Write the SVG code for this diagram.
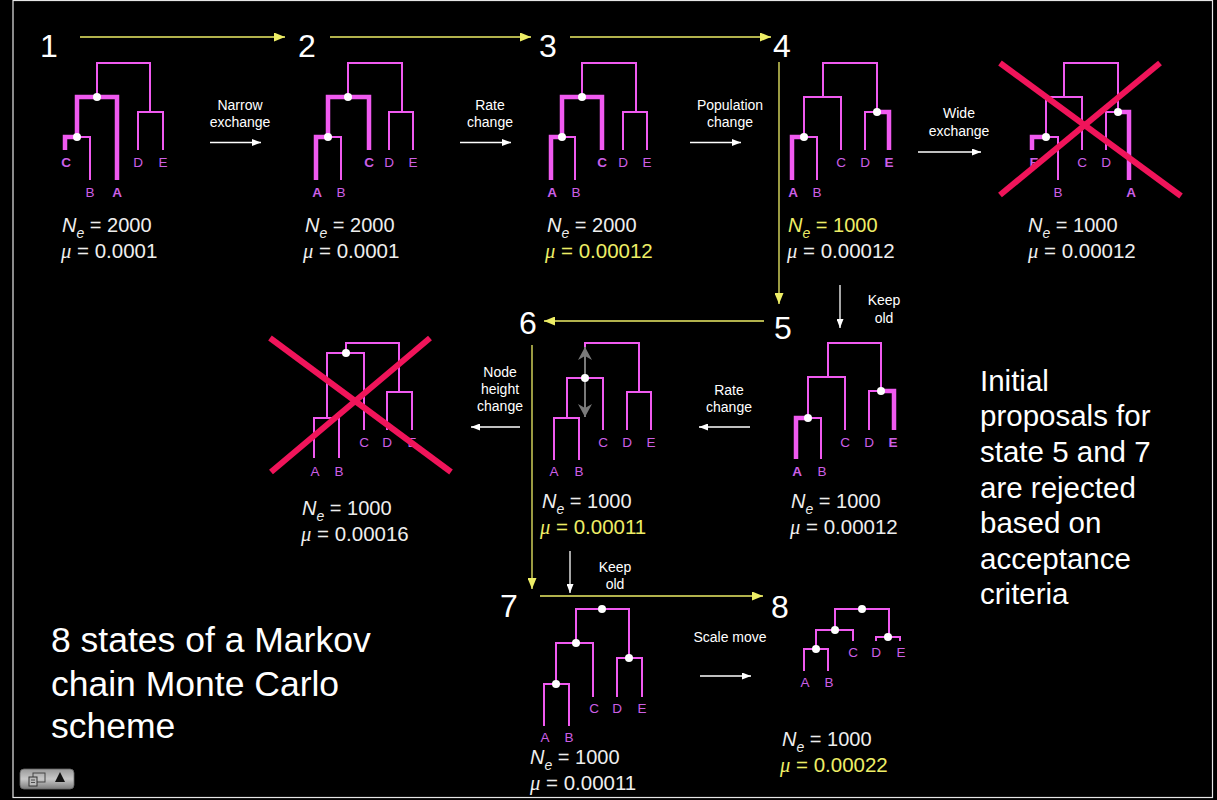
<svg xmlns="http://www.w3.org/2000/svg" width="1217" height="800" viewBox="0 0 1217 800">
<defs>
<marker id="ya" markerUnits="userSpaceOnUse" markerWidth="11" markerHeight="9" refX="11" refY="4.5" orient="auto"><path d="M0,0 L11,4.5 L0,9 z" fill="#eeee66"/></marker>
<marker id="wa" markerUnits="userSpaceOnUse" markerWidth="9" markerHeight="7" refX="9" refY="3.5" orient="auto"><path d="M0,0 L9,3.5 L0,7 z" fill="#ffffff"/></marker>
<marker id="ga" markerUnits="userSpaceOnUse" markerWidth="13" markerHeight="14" refX="13" refY="7" orient="auto-start-reverse"><path d="M0,0 L13,7 L0,14 L4,7 z" fill="#7a7a7a"/></marker>
<linearGradient id="wg" x1="0" y1="0" x2="0" y2="1"><stop offset="0" stop-color="#9a9a9a"/><stop offset="0.5" stop-color="#c8c8c8"/><stop offset="1" stop-color="#7c7c7c"/></linearGradient>
</defs>
<style>
.bg{fill:#000}
.t{fill:none;stroke:#f05af0;stroke-width:2;stroke-linejoin:miter}
.k{fill:none;stroke:#f05af0;stroke-width:4.5;stroke-linejoin:miter}
.dot{fill:#ffffff}
.lb{font-family:"Liberation Sans",Arial,sans-serif;font-size:13.5px;fill:#cc5fe6;text-anchor:middle}
.lbb{font-weight:bold}
.ne{font-family:"Liberation Sans",Arial,sans-serif;font-size:20px;fill:#eeeeee}
.y{fill:#eeee66}
.it{font-style:italic}
.sub{font-size:14px;font-style:italic}
.mu{font-family:"Liberation Serif","Times New Roman",serif;font-style:italic}
.mul{font-size:20.5px}
.num{font-family:"Liberation Sans",Arial,sans-serif;font-size:32px;fill:#ffffff}
.cap{font-family:"Liberation Sans",Arial,sans-serif;font-size:14px;fill:#ffffff;text-anchor:middle}
.big{font-family:"Liberation Sans",Arial,sans-serif;fill:#ffffff}
.yl{stroke:#eeee66;stroke-width:1.3;fill:none}
.wl{stroke:#ffffff;stroke-width:1.3;fill:none}
.x{stroke:#f0145a;stroke-width:6;stroke-linecap:butt}
</style>
<rect class="bg" x="0" y="0" width="1217" height="800"/>
<rect x="13" y="0.5" width="1199.5" height="797" fill="none" stroke="#e6e6e6" stroke-width="1.2"/>

<g id="connectors">
<line class="yl" x1="80" y1="37" x2="285" y2="37" marker-end="url(#ya)"/>
<line class="yl" x1="330" y1="37" x2="531" y2="37" marker-end="url(#ya)"/>
<line class="yl" x1="570" y1="37" x2="771" y2="37" marker-end="url(#ya)"/>
<line class="yl" x1="779" y1="62" x2="779" y2="304" marker-end="url(#ya)"/>
<line class="yl" x1="764" y1="321" x2="544" y2="321" marker-end="url(#ya)"/>
<line class="yl" x1="532" y1="345" x2="532" y2="589" marker-end="url(#ya)"/>
<line class="yl" x1="540" y1="596" x2="763" y2="596" marker-end="url(#ya)"/>
<line class="wl" x1="210" y1="142.5" x2="261" y2="142.5" marker-end="url(#wa)"/>
<line class="wl" x1="460" y1="142.5" x2="511" y2="142.5" marker-end="url(#wa)"/>
<line class="wl" x1="690" y1="142.5" x2="741" y2="142.5" marker-end="url(#wa)"/>
<line class="wl" x1="918" y1="152" x2="981" y2="152" marker-end="url(#wa)"/>
<line class="wl" x1="840" y1="285" x2="840" y2="328" marker-end="url(#wa)"/>
<line class="wl" x1="750" y1="427" x2="699" y2="427" marker-end="url(#wa)"/>
<line class="wl" x1="520" y1="427" x2="471" y2="427" marker-end="url(#wa)"/>
<line class="wl" x1="570" y1="551" x2="570" y2="593" marker-end="url(#wa)"/>
<line class="wl" x1="700" y1="676" x2="751" y2="676" marker-end="url(#wa)"/>
</g>

<g id="move-labels">
<text class="cap" x="240" y="110">Narrow</text><text class="cap" x="240" y="127">exchange</text>
<text class="cap" x="490" y="110">Rate</text><text class="cap" x="490" y="127">change</text>
<text class="cap" x="730" y="110">Population</text><text class="cap" x="730" y="127">change</text>
<text class="cap" x="959" y="118">Wide</text><text class="cap" x="959" y="136">exchange</text>
<text class="cap" x="884" y="305">Keep</text><text class="cap" x="884" y="323">old</text>
<text class="cap" x="729" y="395">Rate</text><text class="cap" x="729" y="412">change</text>
<text class="cap" x="500" y="377">Node</text><text class="cap" x="500" y="394">height</text><text class="cap" x="500" y="411">change</text>
<text class="cap" x="615" y="572">Keep</text><text class="cap" x="615" y="589">old</text>
<text class="cap" x="730" y="642">Scale move</text>
</g>

<g id="numbers">
<text class="num" x="40" y="57">1</text>
<text class="num" x="298" y="57">2</text>
<text class="num" x="539" y="57">3</text>
<text class="num" x="773" y="57">4</text>
<text class="num" x="774" y="339">5</text>
<text class="num" x="519" y="334">6</text>
<text class="num" x="500" y="617">7</text>
<text class="num" x="771" y="618">8</text>
</g>

<g id="state1">
<path class="t" d="M97 97 V63 H150 V112"/>
<path class="k" d="M97 97 H77 V137"/><path class="k" d="M97 97 H117 V180"/>
<path class="k" d="M77 137 H65 V150"/><path class="t" d="M77 137 H90 V180"/>
<path class="t" d="M138 150 V112 H163 V150"/>
<circle class="dot" cx="97" cy="97" r="4"/><circle class="dot" cx="77" cy="137" r="4"/>
<text class="lb lbb" x="66" y="167">C</text><text class="lb" x="138" y="167">D</text><text class="lb" x="163" y="167">E</text>
<text class="lb" x="90" y="197">B</text><text class="lb lbb" x="117" y="197">A</text>
<text class="ne" x="62" y="232"><tspan class="it">N</tspan><tspan class="sub" dy="6">e</tspan><tspan dy="-6"> = 2000</tspan></text>
<text class="ne mul" x="61" y="258"><tspan class="mu">μ</tspan> = 0.0001</text>
</g>

<g id="state2">
<path class="t" d="M348 97 V63 H402 V112"/>
<path class="k" d="M348 97 H328 V137"/><path class="k" d="M348 97 H369 V150"/>
<path class="k" d="M328 137 H316 V180"/><path class="t" d="M328 137 H341 V180"/>
<path class="t" d="M389 150 V112 H413 V150"/>
<circle class="dot" cx="348" cy="97" r="4"/><circle class="dot" cx="328" cy="137" r="4"/>
<text class="lb lbb" x="369" y="167">C</text><text class="lb" x="389" y="167">D</text><text class="lb" x="413" y="167">E</text>
<text class="lb lbb" x="317" y="197">A</text><text class="lb" x="341" y="197">B</text>
<text class="ne" x="305" y="232"><tspan class="it">N</tspan><tspan class="sub" dy="6">e</tspan><tspan dy="-6"> = 2000</tspan></text>
<text class="ne mul" x="303" y="258"><tspan class="mu">μ</tspan> = 0.0001</text>
</g>

<g id="state3">
<path class="t" d="M582 97 V63 H636 V112"/>
<path class="k" d="M582 97 H562 V137"/><path class="k" d="M582 97 H602 V150"/>
<path class="k" d="M562 137 H551 V180"/><path class="t" d="M562 137 H575 V180"/>
<path class="t" d="M623 150 V112 H647 V150"/>
<circle class="dot" cx="582" cy="97" r="4"/><circle class="dot" cx="562" cy="137" r="4"/>
<text class="lb lbb" x="602" y="167">C</text><text class="lb" x="623" y="167">D</text><text class="lb" x="647" y="167">E</text>
<text class="lb lbb" x="552" y="197">A</text><text class="lb" x="576" y="197">B</text>
<text class="ne" x="547" y="232"><tspan class="it">N</tspan><tspan class="sub" dy="6">e</tspan><tspan dy="-6"> = 2000</tspan></text>
<text class="ne mul y" x="545" y="258"><tspan class="mu">μ</tspan> = 0.00012</text>
</g>

<g id="state4">
<path class="t" d="M823 97 V63 H877 V112"/>
<path class="t" d="M804 137 V97 H841 V150"/>
<path class="k" d="M804 137 H792 V180"/><path class="t" d="M804 137 H817 V180"/>
<path class="t" d="M877 112 H865 V150"/><path class="k" d="M877 112 H889 V150"/>
<circle class="dot" cx="804" cy="137" r="4"/><circle class="dot" cx="877" cy="112" r="4"/>
<text class="lb" x="841" y="167">C</text><text class="lb" x="865" y="167">D</text><text class="lb lbb" x="889" y="167">E</text>
<text class="lb lbb" x="793" y="197">A</text><text class="lb" x="817" y="197">B</text>
<text class="ne y" x="788" y="232"><tspan class="it">N</tspan><tspan class="sub" dy="6">e</tspan><tspan dy="-6"> = 1000</tspan></text>
<text class="ne mul" x="787" y="258"><tspan class="mu">μ</tspan> = 0.00012</text>
</g>

<g id="state4-rejected">
<path class="t" d="M1064 97 V63 H1118 V112"/>
<path class="t" d="M1046 137 V97 H1082 V150"/>
<path class="k" d="M1046 137 H1032 V150"/><path class="t" d="M1046 137 H1058 V180"/>
<path class="t" d="M1118 112 H1106 V150"/><path class="k" d="M1118 112 H1129 V180"/>
<circle class="dot" cx="1046" cy="137" r="4"/><circle class="dot" cx="1118" cy="112" r="4"/>
<text class="lb lbb" x="1034" y="167">E</text><text class="lb" x="1082" y="167">C</text><text class="lb" x="1106" y="167">D</text>
<text class="lb" x="1058" y="197">B</text><text class="lb lbb" x="1131" y="197">A</text>
<line class="x" x1="1000" y1="63" x2="1181" y2="196"/><line class="x" x1="1160" y1="63" x2="1000" y2="195"/>
<text class="ne" x="1028" y="232"><tspan class="it">N</tspan><tspan class="sub" dy="6">e</tspan><tspan dy="-6"> = 1000</tspan></text>
<text class="ne mul" x="1028" y="258"><tspan class="mu">μ</tspan> = 0.00012</text>
</g>

<g id="state5">
<path class="t" d="M828 377 V343 H881 V391"/>
<path class="t" d="M808 418 V377 H845 V430"/>
<path class="k" d="M808 418 H796 V459"/><path class="t" d="M808 418 H821 V459"/>
<path class="t" d="M881 391 H869 V430"/><path class="k" d="M881 391 H894 V430"/>
<circle class="dot" cx="808" cy="418" r="4"/><circle class="dot" cx="881" cy="391" r="4"/>
<text class="lb" x="845" y="447">C</text><text class="lb" x="869" y="447">D</text><text class="lb lbb" x="893" y="447">E</text>
<text class="lb lbb" x="797" y="476">A</text><text class="lb" x="822" y="476">B</text>
<text class="ne" x="791" y="508"><tspan class="it">N</tspan><tspan class="sub" dy="6">e</tspan><tspan dy="-6"> = 1000</tspan></text>
<text class="ne mul" x="790" y="534"><tspan class="mu">μ</tspan> = 0.00012</text>
</g>

<g id="state6">
<path class="t" d="M585 378 V343 H639 V392"/>
<path class="t" d="M567 418 V378 H603 V430"/>
<path class="t" d="M554 460 V418 H579 V460"/>
<path class="t" d="M627 430 V392 H651 V430"/>
<line x1="585" y1="347" x2="585" y2="417" stroke="#7a7a7a" stroke-width="2" marker-start="url(#ga)" marker-end="url(#ga)"/>
<circle class="dot" cx="585" cy="378" r="4"/>
<text class="lb" x="603" y="447">C</text><text class="lb" x="627" y="447">D</text><text class="lb" x="651" y="447">E</text>
<text class="lb" x="554" y="476">A</text><text class="lb" x="579" y="476">B</text>
<text class="ne" x="542" y="508"><tspan class="it">N</tspan><tspan class="sub" dy="6">e</tspan><tspan dy="-6"> = 1000</tspan></text>
<text class="ne mul y" x="540" y="534"><tspan class="mu">μ</tspan> = 0.00011</text>
</g>

<g id="state6-rejected">
<path class="t" d="M346 353 V343 H399 V392"/>
<path class="t" d="M327 418 V353 H364 V430"/>
<path class="t" d="M314 458 V418 H339 V458"/>
<path class="t" d="M387 430 V392 H412 V430"/>
<circle class="dot" cx="346" cy="353" r="4"/>
<text class="lb" x="364" y="447">C</text><text class="lb" x="387" y="447">D</text><text class="lb" x="412" y="447">E</text>
<text class="lb" x="315" y="476">A</text><text class="lb" x="339" y="476">B</text>
<line class="x" x1="270" y1="338" x2="451" y2="472"/><line class="x" x1="430" y1="338" x2="271" y2="472"/>
<text class="ne" x="302" y="515"><tspan class="it">N</tspan><tspan class="sub" dy="6">e</tspan><tspan dy="-6"> = 1000</tspan></text>
<text class="ne mul" x="301" y="541"><tspan class="mu">μ</tspan> = 0.00016</text>
</g>

<g id="state7">
<path class="t" d="M576 643 V609 H629 V658"/>
<path class="t" d="M556 684 V643 H593 V697"/>
<path class="t" d="M544 726 V684 H569 V726"/>
<path class="t" d="M617 697 V658 H642 V697"/>
<circle class="dot" cx="602" cy="609" r="4"/><circle class="dot" cx="576" cy="643" r="4"/><circle class="dot" cx="556" cy="684" r="4"/><circle class="dot" cx="629" cy="658" r="4"/>
<text class="lb" x="594" y="713">C</text><text class="lb" x="617" y="713">D</text><text class="lb" x="642" y="713">E</text>
<text class="lb" x="545" y="742">A</text><text class="lb" x="569" y="742">B</text>
<text class="ne" x="530" y="764"><tspan class="it">N</tspan><tspan class="sub" dy="6">e</tspan><tspan dy="-6"> = 1000</tspan></text>
<text class="ne mul" x="530" y="790"><tspan class="mu">μ</tspan> = 0.00011</text>
</g>

<g id="state8">
<path class="t" d="M835 630 V609 H889 V637"/>
<path class="t" d="M816 649 V630 H853 V641"/>
<path class="t" d="M804 671 V649 H828 V671"/>
<path class="t" d="M876 641 V637 H900 V641"/>
<circle class="dot" cx="862" cy="609" r="4"/><circle class="dot" cx="835" cy="630" r="4"/><circle class="dot" cx="816" cy="649" r="4"/><circle class="dot" cx="888" cy="637" r="4"/>
<text class="lb" x="853" y="657">C</text><text class="lb" x="876" y="657">D</text><text class="lb" x="901" y="657">E</text>
<text class="lb" x="805" y="687">A</text><text class="lb" x="829" y="687">B</text>
<text class="ne" x="782" y="746"><tspan class="it">N</tspan><tspan class="sub" dy="6">e</tspan><tspan dy="-6"> = 1000</tspan></text>
<text class="ne mul y" x="780" y="772"><tspan class="mu">μ</tspan> = 0.00022</text>
</g>

<g id="notes">
<text class="big" font-size="29.5" x="980" y="391">Initial</text>
<text class="big" font-size="29.5" x="980" y="426">proposals for</text>
<text class="big" font-size="29.5" x="980" y="462">state 5 and 7</text>
<text class="big" font-size="29.5" x="980" y="498">are rejected</text>
<text class="big" font-size="29.5" x="980" y="533">based on</text>
<text class="big" font-size="29.5" x="980" y="569">acceptance</text>
<text class="big" font-size="29.5" x="980" y="604">criteria</text>
<text class="big" font-size="35.5" x="51" y="652">8 states of a Markov</text>
<text class="big" font-size="35.5" x="51" y="696">chain Monte Carlo</text>
<text class="big" font-size="35.5" x="51" y="738">scheme</text>
</g>

<g id="widget">
<rect x="20" y="769" width="54" height="20" rx="4" fill="url(#wg)" stroke="#666" stroke-width="0.8"/>
<rect x="33" y="773" width="12" height="9" fill="none" stroke="#444" stroke-width="1"/>
<rect x="29" y="777" width="8" height="9" fill="#bbb" stroke="#333" stroke-width="1"/>
<path d="M31 780 H35 M31 782.5 H35" stroke="#333" stroke-width="0.8"/>
<polygon points="60,772 65,782 55,782" fill="#111"/>
</g>
</svg>
